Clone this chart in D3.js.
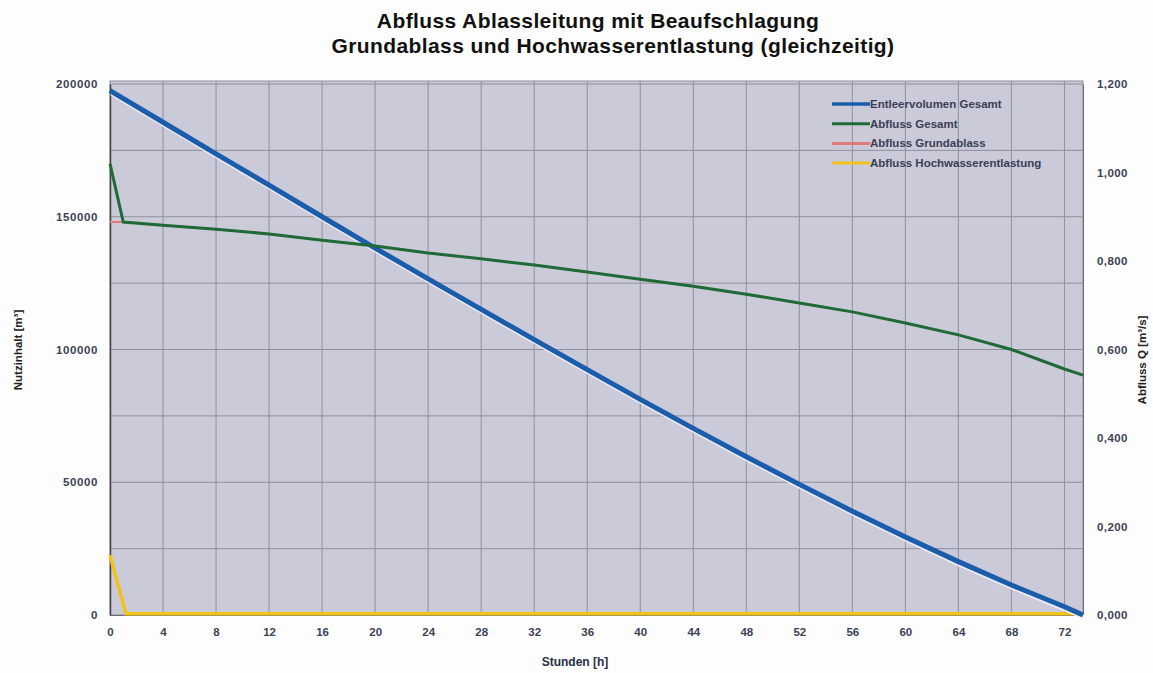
<!DOCTYPE html>
<html>
<head>
<meta charset="utf-8">
<script src="https://cdn.jsdelivr.net/npm/d3@7"></script>
<style>
  body { margin: 0; background: #fdfdfd; }
  text { font-family: "Liberation Sans", Arial, sans-serif; }
</style>
</head>
<body>
<div id="chart-area"></div>
<script>
// Stunden [h]
var hours = [0, 4, 8, 12, 16, 20, 24, 28, 32, 36, 40, 44, 48, 52, 56, 60, 64, 68, 72, 73.4];
// Entleervolumen Gesamt [m3]
var volume = [197500, 185600, 173700, 161900, 150000, 138200, 126600, 115100, 103700, 92400,
              81200, 70300, 59600, 49200, 39100, 29400, 20100, 11300, 3100, 0];
// Abfluss Gesamt [m3/s]
var flow_hours = [0, 1, 4, 8, 12, 16, 20, 24, 28, 32, 36, 40, 44, 48, 52, 56, 60, 64, 68, 72, 73.4];
var flow_total = [1.02, 0.888, 0.881, 0.872, 0.861, 0.847, 0.834, 0.818, 0.805, 0.791, 0.775,
                  0.759, 0.743, 0.725, 0.705, 0.685, 0.660, 0.633, 0.600, 0.556, 0.542];
// Abfluss Grundablass [m3/s]
var flow_base = [0.888, 0.888, 0.881, 0.872, 0.861, 0.847, 0.834, 0.818, 0.805, 0.791, 0.775,
                 0.759, 0.743, 0.725, 0.705, 0.685, 0.660, 0.633, 0.600, 0.556, 0.542];
// Abfluss Hochwasserentlastung [m3/s]
var flood_hours = [0, 1.2, 4, 73.4];
var flow_flood = [0.135, 0.003, 0.003, 0.003];

var x_ticks = d3.range(0, 73, 4);
var left_ticks = [0, 50000, 100000, 150000, 200000];
var right_ticks = [0, 0.2, 0.4, 0.6, 0.8, 1.0, 1.2];

var series_names = ["Entleervolumen Gesamt", "Abfluss Gesamt", "Abfluss Grundablass", "Abfluss Hochwasserentlastung"];
var series_colors = ["#1b5cab", "#1e6b37", "#e07a7a", "#f2c21a"];

var margin = {top: 84, right: 70, bottom: 58, left: 110},
    width = 1153 - margin.left - margin.right,
    height = 673 - margin.top - margin.bottom;

var svg = d3.select("#chart-area").append("svg")
    .attr("width", 1153)
    .attr("height", 673);

svg.append("text")
    .attr("x", 598).attr("y", 28)
    .attr("text-anchor", "middle")
    .attr("font-size", 21).attr("font-weight", "bold").attr("fill", "#111")
    .attr("letter-spacing", 0.4)
    .text("Abfluss Ablassleitung mit Beaufschlagung");
svg.append("text")
    .attr("x", 613).attr("y", 53)
    .attr("text-anchor", "middle")
    .attr("font-size", 21).attr("font-weight", "bold").attr("fill", "#111")
    .attr("letter-spacing", 0.4)
    .text("Grundablass und Hochwasserentlastung (gleichzeitig)");

var g = svg.append("g")
    .attr("transform", "translate(" + margin.left + "," + margin.top + ")");

var xScale = d3.scaleLinear().domain([0, 73.4]).range([0, width]);
var yLeft = d3.scaleLinear().domain([0, 200000]).range([height, 0]);
var yRight = d3.scaleLinear().domain([0, 1.2]).range([height, 0]);

g.append("rect")
    .attr("x", 0).attr("y", -3)
    .attr("width", width).attr("height", height + 3)
    .attr("fill", "#cbcad9")
    .attr("stroke", "#8c8c96");

// grid
g.append("g").selectAll("line")
    .data(x_ticks.slice(1))
    .enter().append("line")
    .attr("x1", function (d) { return xScale(d); })
    .attr("x2", function (d) { return xScale(d); })
    .attr("y1", -3).attr("y2", height)
    .attr("stroke", "#908f9b").attr("stroke-width", 1);
g.append("g").selectAll("line")
    .data(d3.range(25000, 200001, 25000))
    .enter().append("line")
    .attr("x1", 0).attr("x2", width)
    .attr("y1", function (d) { return yLeft(d); })
    .attr("y2", function (d) { return yLeft(d); })
    .attr("stroke", "#908f9b").attr("stroke-width", 1);

// axes
var xAxis = g.append("g")
    .attr("transform", "translate(0," + height + ")")
    .call(d3.axisBottom(xScale).tickValues(x_ticks).tickSize(0).tickPadding(13));
var leftAxis = g.append("g")
    .call(d3.axisLeft(yLeft).tickValues(left_ticks).tickFormat(d3.format("d")).tickSize(0).tickPadding(12));
var rightAxis = g.append("g")
    .attr("transform", "translate(" + width + ",0)")
    .call(d3.axisRight(yRight).tickValues(right_ticks)
        .tickFormat(function (d) { return d3.format(".3f")(d).replace(".", ","); })
        .tickSize(0).tickPadding(14));
[xAxis, leftAxis, rightAxis].forEach(function (a) {
    a.select(".domain").attr("stroke", "#6a6a74");
    a.selectAll("text")
        .attr("font-size", 11.5).attr("font-weight", "bold")
        .attr("fill", "#3c4255")
        .style("font-family", "'Liberation Sans', Arial, sans-serif");
});
leftAxis.selectAll("text").attr("letter-spacing", 0.6);
rightAxis.selectAll("text").attr("letter-spacing", 0.4);
leftAxis.select(".domain").attr("stroke", "#444").attr("stroke-width", 1.5);

var line = function (xs, ys, yScale) {
    return d3.line()
        .x(function (d, i) { return xScale(xs[i]); })
        .y(function (d) { return yScale(d); })(ys);
};

// series
g.append("path")
    .attr("d", line(flood_hours, flow_flood, yRight))
    .attr("fill", "none").attr("stroke", series_colors[3]).attr("stroke-width", 3.5);
g.append("path")
    .attr("d", line(flow_hours, flow_base, yRight))
    .attr("fill", "none").attr("stroke", series_colors[2]).attr("stroke-width", 2);
g.append("path")
    .attr("d", line(hours, volume, yLeft))
    .attr("transform", "translate(1.5,2.5)")
    .attr("fill", "none").attr("stroke", "#eef0f8").attr("stroke-width", 5).attr("opacity", 0.9);
g.append("path")
    .attr("d", line(hours, volume, yLeft))
    .attr("fill", "none").attr("stroke", series_colors[0]).attr("stroke-width", 5);
g.append("path")
    .attr("d", line(flow_hours, flow_total, yRight))
    .attr("fill", "none").attr("stroke", series_colors[1]).attr("stroke-width", 3);

// legend
var legend = g.append("g").attr("transform", "translate(" + (832 - margin.left) + "," + (104 - margin.top) + ")");
series_names.forEach(function (name, i) {
    var row = legend.append("g").attr("transform", "translate(0," + (i * 19.7) + ")");
    row.append("line")
        .attr("x1", 0).attr("x2", 38).attr("y1", 0).attr("y2", 0)
        .attr("stroke", series_colors[i]).attr("stroke-width", i === 0 ? 3.5 : 3);
    row.append("text")
        .attr("x", 38).attr("y", 4)
        .attr("font-size", 11.5).attr("font-weight", "bold")
        .attr("fill", "#3a3f55")
        .text(name);
});

// axis titles
svg.append("text")
    .attr("transform", "translate(22,350) rotate(-90)")
    .attr("text-anchor", "middle")
    .attr("font-size", 11.5).attr("font-weight", "bold").attr("fill", "#222")
    .text("Nutzinhalt [m³]");
svg.append("text")
    .attr("transform", "translate(1146,360) rotate(-90)")
    .attr("text-anchor", "middle")
    .attr("font-size", 11.5).attr("font-weight", "bold").attr("fill", "#222")
    .text("Abfluss Q [m³/s]");
svg.append("text")
    .attr("x", 575).attr("y", 666)
    .attr("text-anchor", "middle")
    .attr("font-size", 12).attr("font-weight", "bold").attr("fill", "#2a2f45")
    .text("Stunden [h]");
</script>
</body>
</html>
